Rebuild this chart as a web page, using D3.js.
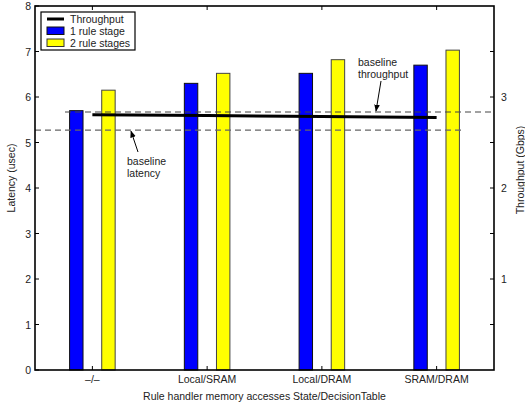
<!DOCTYPE html>
<html><head><meta charset="utf-8">
<script src="https://cdn.jsdelivr.net/npm/d3@7"></script>
<style>body{margin:0;background:#fff}svg{display:block}text{font-family:"Liberation Sans",Arial,sans-serif;fill:#222}</style>
</head><body><svg id="c" width="525" height="406"></svg>
<script>
const categories = ["\u2013/\u2013", "Local/SRAM", "Local/DRAM", "SRAM/DRAM"];
const oneStage = [5.70, 6.30, 6.52, 6.70];
const twoStage = [6.15, 6.52, 6.82, 7.03];
const throughput = [2.805, 2.797, 2.786, 2.775];
const baselineLatency = 5.27;
const baselineThroughput = 2.835;
const leftTicks = [0,1,2,3,4,5,6,7,8];
const rightTicks = [0.5,1,1.5,2,2.5,3,3.5];
const rightLabels = [1,2,3];

const svg = d3.select("#c");
const L = 35, R = 494, T = 6, B = 370;
const x = d3.scaleLinear().domain([0.5, 4.5]).range([L, R]);
const y = d3.scaleLinear().domain([0, 8]).range([B, T]);
const y2 = d3.scaleLinear().domain([0, 4]).range([B, T]);
const off = 0.14, bw = 0.117;
const bwPx = x(1 + bw) - x(1);

// bars
svg.append("g").selectAll("rect").data(oneStage).join("rect")
  .attr("x", (d,i) => x(i + 1 - off) - bwPx/2).attr("y", d => y(d))
  .attr("width", bwPx).attr("height", d => B - y(d))
  .attr("fill", "#0000ff").attr("stroke", "#111").attr("stroke-width", 1);
svg.append("g").selectAll("rect").data(twoStage).join("rect")
  .attr("x", (d,i) => x(i + 1 + off) - bwPx/2).attr("y", d => y(d))
  .attr("width", bwPx).attr("height", d => B - y(d))
  .attr("fill", "#ffff00").attr("stroke", "#444").attr("stroke-width", 1);

// baseline dashed lines
svg.append("line").attr("x1", L).attr("x2", 463).attr("y1", y(baselineLatency)).attr("y2", y(baselineLatency))
  .attr("stroke", "#666").attr("stroke-width", 1.2).attr("stroke-dasharray", "6,4");
svg.append("line").attr("x1", 65).attr("x2", 493).attr("y1", y2(baselineThroughput)).attr("y2", y2(baselineThroughput))
  .attr("stroke", "#444").attr("stroke-width", 1.2).attr("stroke-dasharray", "6,4");

// throughput line
svg.append("path").datum(throughput)
  .attr("d", d3.line().x((d,i) => x(i + 1)).y(d => y2(d)))
  .attr("fill", "none").attr("stroke", "#000").attr("stroke-width", 3);

// axes box
svg.append("rect").attr("x", L).attr("y", T).attr("width", R - L).attr("height", B - T)
  .attr("fill", "none").attr("stroke", "#000").attr("stroke-width", 1.6);

// left axis ticks
const gl = svg.append("g");
leftTicks.forEach(t => {
  gl.append("line").attr("x1", L).attr("x2", L + 4).attr("y1", y(t)).attr("y2", y(t)).attr("stroke", "#000");
  gl.append("text").attr("x", 31).attr("y", y(t) + 4).attr("text-anchor", "end").attr("font-size", 10.5).text(t);
});
// right axis ticks
rightTicks.forEach(t => {
  gl.append("line").attr("x1", R - 4).attr("x2", R).attr("y1", y2(t)).attr("y2", y2(t)).attr("stroke", "#000");
});
rightLabels.forEach(t => {
  gl.append("text").attr("x", 501).attr("y", y2(t) + 4).attr("text-anchor", "start").attr("font-size", 10.5).text(t);
});
// category ticks
categories.forEach((c, i) => {
  gl.append("line").attr("x1", x(i+1)).attr("x2", x(i+1)).attr("y1", B).attr("y2", B - 4).attr("stroke", "#000");
  gl.append("line").attr("x1", x(i+1)).attr("x2", x(i+1)).attr("y1", T).attr("y2", T + 4).attr("stroke", "#000");
  gl.append("text").attr("x", x(i+1)).attr("y", 383).attr("text-anchor", "middle").attr("font-size", 10.5).text(c);
});

// axis titles
svg.append("text").attr("transform", "translate(15,178) rotate(-90)").attr("text-anchor", "middle").attr("font-size", 10.5).text("Latency (usec)");
svg.append("text").attr("transform", "translate(524,170) rotate(-90)").attr("text-anchor", "middle").attr("font-size", 10.5).text("Throughput (Gbps)");
svg.append("text").attr("x", (L + R)/2).attr("y", 400).attr("text-anchor", "middle").attr("font-size", 10.5).text("Rule handler memory accesses State/DecisionTable");

// annotations
const defs = svg.append("defs");
defs.append("marker").attr("id", "ah").attr("viewBox", "0 0 10 10").attr("refX", 9).attr("refY", 5)
  .attr("markerWidth", 7).attr("markerHeight", 7).attr("orient", "auto")
  .append("path").attr("d", "M0,1 L10,5 L0,9 z").attr("fill", "#000");
svg.append("text").attr("x", 358).attr("y", 66).attr("font-size", 10.5).text("baseline");
svg.append("text").attr("x", 358).attr("y", 78).attr("font-size", 10.5).text("throughput");
svg.append("line").attr("x1", 381).attr("y1", 81).attr("x2", 376).attr("y2", y2(baselineThroughput) - 1)
  .attr("stroke", "#000").attr("stroke-width", 1).attr("marker-end", "url(#ah)");
svg.append("text").attr("x", 127).attr("y", 165).attr("font-size", 10.5).text("baseline");
svg.append("text").attr("x", 127).attr("y", 177).attr("font-size", 10.5).text("latency");
svg.append("line").attr("x1", 138).attr("y1", 152).attr("x2", 131).attr("y2", y(baselineLatency) + 1)
  .attr("stroke", "#000").attr("stroke-width", 1).attr("marker-end", "url(#ah)");

// legend
const lg = svg.append("g");
lg.append("rect").attr("x", 41).attr("y", 12).attr("width", 94).attr("height", 38)
  .attr("fill", "#fff").attr("stroke", "#000").attr("stroke-width", 1.2);
lg.append("line").attr("x1", 47).attr("x2", 64).attr("y1", 19).attr("y2", 19).attr("stroke", "#000").attr("stroke-width", 3);
lg.append("rect").attr("x", 47).attr("y", 27).attr("width", 17).attr("height", 7.5).attr("fill", "#0000ff").attr("stroke", "#111");
lg.append("rect").attr("x", 47).attr("y", 39).attr("width", 17).attr("height", 7.5).attr("fill", "#ffff00").attr("stroke", "#333");
[["Throughput", 19], ["1 rule stage", 31], ["2 rule stages", 43]].forEach(([t, yy]) => {
  lg.append("text").attr("x", 70).attr("y", yy + 3.8).attr("font-size", 10.5).text(t);
});
</script></body></html>
